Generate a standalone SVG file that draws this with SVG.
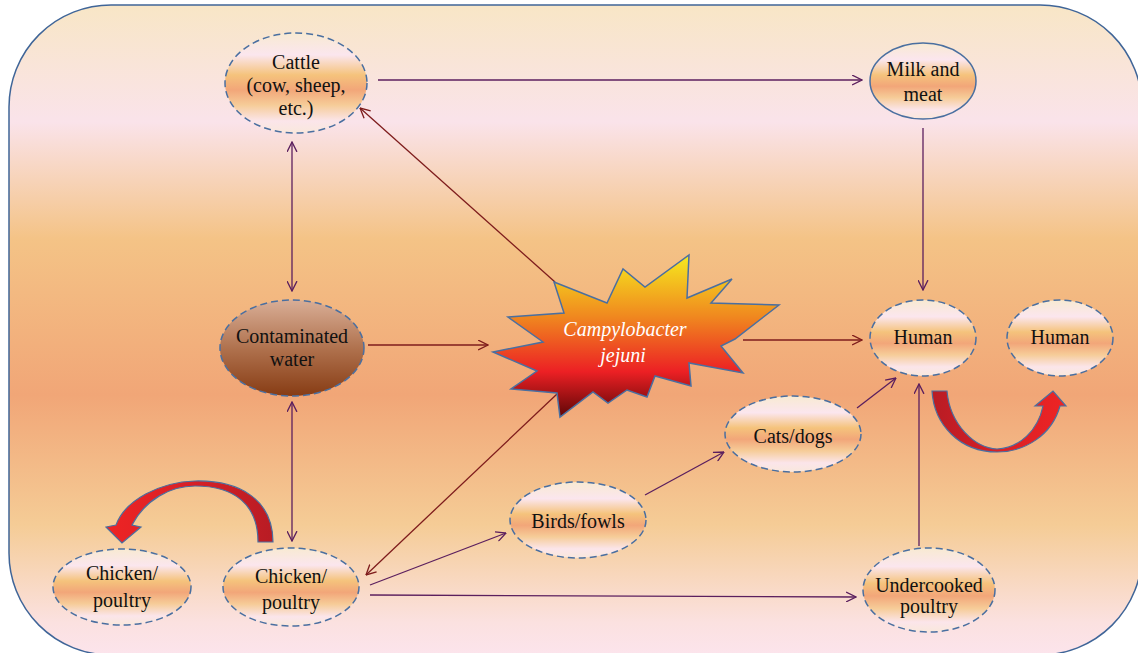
<svg xmlns="http://www.w3.org/2000/svg" width="1138" height="653" viewBox="0 0 1138 653">
<defs>
<linearGradient id="bg" x1="0" y1="0" x2="0" y2="1">
<stop offset="0" stop-color="#f8e6c6"/>
<stop offset="0.18" stop-color="#fae3ea"/>
<stop offset="0.36" stop-color="#f4c386"/>
<stop offset="0.6" stop-color="#f1a677"/>
<stop offset="0.8" stop-color="#f5cc96"/>
<stop offset="0.95" stop-color="#fbe1e0"/>
<stop offset="1" stop-color="#fce4ec"/>
</linearGradient>
<linearGradient id="node" x1="0" y1="0" x2="0" y2="1">
<stop offset="0" stop-color="#f8ead2"/>
<stop offset="0.22" stop-color="#fbe6ee"/>
<stop offset="0.42" stop-color="#f5c37c"/>
<stop offset="0.57" stop-color="#f2a679"/>
<stop offset="0.72" stop-color="#f6cc98"/>
<stop offset="0.88" stop-color="#fbe5ea"/>
<stop offset="1" stop-color="#f9e8dc"/>
</linearGradient>
<linearGradient id="water" x1="0" y1="0" x2="0" y2="1">
<stop offset="0" stop-color="#d9ae96"/>
<stop offset="0.5" stop-color="#b0724e"/>
<stop offset="1" stop-color="#873c14"/>
</linearGradient>
<linearGradient id="star" x1="0" y1="0" x2="0" y2="1">
<stop offset="0" stop-color="#f6ea1e"/>
<stop offset="0.38" stop-color="#f0881f"/>
<stop offset="0.72" stop-color="#ec2024"/>
<stop offset="1" stop-color="#5e0606"/>
</linearGradient>
<linearGradient id="redL" x1="0" y1="0" x2="1" y2="0">
<stop offset="0" stop-color="#ee2424"/>
<stop offset="0.5" stop-color="#d82026"/>
<stop offset="1" stop-color="#b81c24"/>
</linearGradient>
<linearGradient id="redR" x1="0" y1="0" x2="1" y2="0">
<stop offset="0" stop-color="#b81c24"/>
<stop offset="0.5" stop-color="#d82026"/>
<stop offset="1" stop-color="#ee2424"/>
</linearGradient>
<marker id="ap" viewBox="0 0 10 10" refX="9.5" refY="5" markerWidth="11" markerHeight="11" markerUnits="userSpaceOnUse" orient="auto-start-reverse">
<path d="M0.5,0.5 L9.5,5 L0.5,9.5" fill="none" stroke="#5b1f5e" stroke-width="1.2"/>
</marker>
<marker id="ar" viewBox="0 0 10 10" refX="9.5" refY="5" markerWidth="11" markerHeight="11" markerUnits="userSpaceOnUse" orient="auto-start-reverse">
<path d="M0.5,0.5 L9.5,5 L0.5,9.5" fill="none" stroke="#7e1c1c" stroke-width="1.2"/>
</marker>
</defs>
<style>
.n{fill:url(#node);stroke:#4a6fa0;stroke-width:1.5;stroke-dasharray:7,4}
.p{stroke:#5b1f5e;stroke-width:1.3;fill:none;marker-end:url(#ap)}
.pp{marker-start:url(#ap)}
.r{stroke:#7e1c1c;stroke-width:1.3;fill:none;marker-end:url(#ar)}
.blk{stroke:#4a6fa0;stroke-width:1.2}
</style>
<rect x="9" y="5" width="1133" height="650" rx="102" ry="102" fill="url(#bg)" stroke="#3f6598" stroke-width="1.5"/>

<g id="connectors">
<line class="p" x1="378" y1="80" x2="862" y2="80"/>
<line class="p" x1="923" y1="128" x2="923" y2="290"/>
<line class="p pp" x1="292" y1="142" x2="292" y2="291"/>
<line class="p pp" x1="292" y1="402" x2="292" y2="541"/>
<line class="r" x1="368" y1="345" x2="488" y2="345"/>
<line class="r" x1="555" y1="282" x2="360" y2="108"/>
<line class="r" x1="557" y1="394" x2="366" y2="575"/>
<line class="r" x1="743" y1="340" x2="862" y2="340"/>
<line class="p" x1="370" y1="585" x2="506" y2="533"/>
<line class="p" x1="370" y1="595" x2="856" y2="597"/>
<line class="p" x1="645" y1="495" x2="724" y2="452"/>
<line class="p" x1="857" y1="408" x2="896" y2="378"/>
<line class="p" x1="919" y1="546" x2="919" y2="384"/>
</g>

<g id="arrow-left">
<path class="blk" fill="url(#redL)" d="M273,542 C273,500 240,480 195,481 C160,482 125,500 116,525 L106,527 L122,543 L141,527 L132,525 C145,500 170,486 195,486 C235,486 258,505 258,542 Z"/>
</g>
<g id="arrow-right">
<path class="blk" fill="url(#redR)" d="M932,391 L947,391 C950,425 975,448 997,449 C1020,448 1038,430 1043,406 L1035,406 L1053,391 L1066,406 L1060,406 C1052,435 1025,452 997,452 C960,452 934,425 932,391 Z"/>
</g>

<g id="campylobacter">
<path fill="url(#star)" stroke="#4a6fa0" stroke-width="1.5" d="M554,282 L607,303 L623,269 L645,287 L689,255 L687,298 L732,279 L711,303 L779,305 L735,339 L721,346 L743,373 L689,363 L691,386 L655,376 L647,397 L627,390 L608,403 L593,392 L560,417 L557,393 L511,389 L537,371 L493,352 L543,342 L508,317 L564,313 Z"/>
<text x="625" y="336" font-family="Liberation Serif, serif" font-size="20" font-style="italic" fill="#ffffff" text-anchor="middle">Campylobacter</text>
<text x="623" y="362" font-family="Liberation Serif, serif" font-size="20" font-style="italic" fill="#ffffff" text-anchor="middle">jejuni</text>
</g>

<g font-family="Liberation Serif, serif" font-size="20" fill="#111111" text-anchor="middle">
<g id="cattle">
<ellipse class="n" cx="296" cy="83" rx="71" ry="50"/>
<text x="296" y="69">Cattle</text>
<text x="296" y="92">(cow, sheep,</text>
<text x="296" y="115">etc.)</text>
</g>
<g id="milk">
<ellipse class="n" style="stroke-dasharray:none" cx="923" cy="81" rx="53" ry="38"/>
<text x="923" y="76">Milk and</text>
<text x="923" y="101">meat</text>
</g>
<g id="water-node">
<ellipse class="n" style="fill:url(#water)" cx="292" cy="348" rx="72" ry="48"/>
<text x="292" y="343">Contaminated</text>
<text x="292" y="366">water</text>
</g>
<g id="human1">
<ellipse class="n" cx="923" cy="338" rx="53" ry="38"/>
<text x="923" y="344">Human</text>
</g>
<g id="human2">
<ellipse class="n" cx="1060" cy="338" rx="53" ry="38"/>
<text x="1060" y="344">Human</text>
</g>
<g id="cats">
<ellipse class="n" cx="793" cy="434" rx="68" ry="38"/>
<text x="793" y="443">Cats/dogs</text>
</g>
<g id="birds">
<ellipse class="n" cx="578" cy="520" rx="68" ry="38"/>
<text x="578" y="528">Birds/fowls</text>
</g>
<g id="chicken1">
<ellipse class="n" cx="122" cy="587" rx="69" ry="38"/>
<text x="122" y="580">Chicken/</text>
<text x="122" y="607">poultry</text>
</g>
<g id="chicken2">
<ellipse class="n" cx="291" cy="587" rx="68" ry="39"/>
<text x="291" y="583">Chicken/</text>
<text x="291" y="609">poultry</text>
</g>
<g id="undercooked">
<ellipse class="n" cx="929" cy="590" rx="66" ry="42"/>
<text x="929" y="592">Undercooked</text>
<text x="929" y="613">poultry</text>
</g>
</g>
</svg>
